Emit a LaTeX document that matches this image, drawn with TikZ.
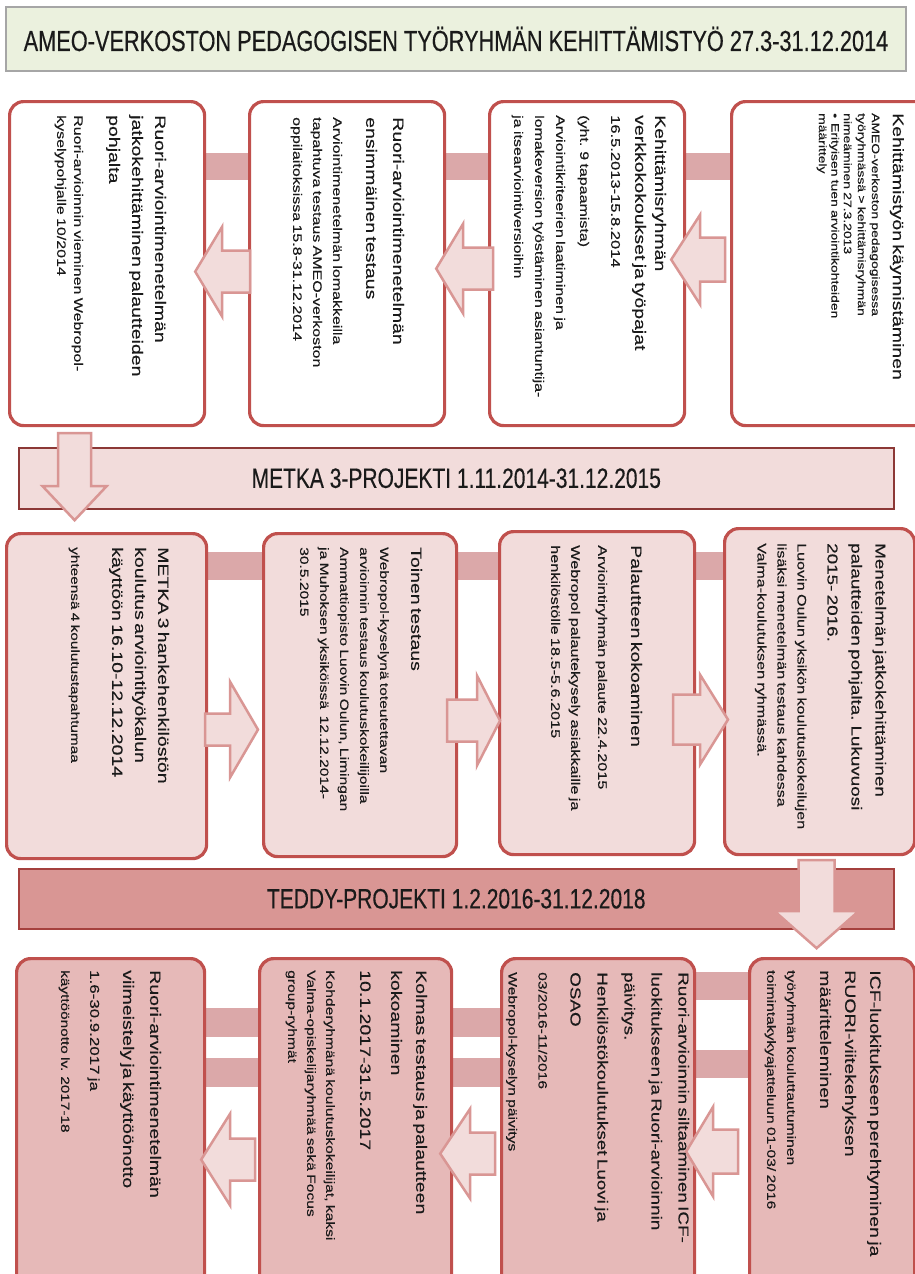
\documentclass[tikz,border=0pt]{standalone}
\usepackage{fontspec}
\setmainfont{Liberation Sans}
\newfontfamily\hfont[FakeStretch=0.75,FakeBold=0.3]{Liberation Sans}
\newfontfamily\vfont[FakeStretch=1.3,FakeBold=0.3]{Liberation Sans}
\usetikzlibrary{calc,backgrounds}

\definecolor{boxred}{HTML}{C0504D}
\definecolor{paleFill}{HTML}{F2DCDB}
\definecolor{roseFill}{HTML}{E6B9B8}
\definecolor{barRose}{HTML}{DBA8A9}
\definecolor{arrowLine}{HTML}{D99694}
\definecolor{titleFill}{HTML}{EBF1DE}
\definecolor{titleLine}{HTML}{A6A6A6}
\definecolor{metkaLine}{HTML}{8C3836}
\definecolor{teddyFill}{HTML}{D99694}
\definecolor{teddyLine}{HTML}{A5403D}
\definecolor{inkGray}{HTML}{1A1A1A}

% one paragraph of rotated box text: size, baseline skip, text
\newcommand\tpar[3]{{\fontsize{#1pt}{#2pt}\selectfont #3\par}}
\newcommand\tgap[1]{\vspace{#1pt}}

% block arrow: rotation, tip point, total length, head length, head half width, shaft half width
\newcommand\blockarrow[6]{%
  \draw[blockarrowstyle, shift={#2}, rotate=#1]
    (0,0) -- (#4,-#5) -- (#4,-#6) -- (#3,-#6) -- (#3,#6) -- (#4,#6) -- (#4,#5) -- cycle;}

\begin{document}
\begin{tikzpicture}[x=1pt,y=-1pt,
  stagebox/.style={draw=boxred, line width=3.2pt, rounded corners=14pt,
    anchor=north west, inner sep=0pt},
  vtext/.style={rotate=-90, anchor=north west, inner sep=0pt,
    text width=305pt, align=left, font=\vfont, text=inkGray},
  band/.style={draw, anchor=north west, inner sep=0pt, font=\hfont, text=inkGray},
  bar/.style={draw=barRose, line width=#1pt},
  blockarrowstyle/.style={fill=paleFill, draw=arrowLine, line width=2.5pt, line join=miter}
]
\useasboundingbox (0,0) rectangle (915,1274);

% ---------- title ----------
\node[band, fill=titleFill, draw=titleLine, line width=2pt,
      minimum width=900pt, minimum height=64pt] (title) at (5,6)
  {\fontsize{29pt}{31pt}\selectfont AMEO-VERKOSTON PEDAGOGISEN TYÖRYHMÄN KEHITTÄMISTYÖ 27.3-31.12.2014};

% ---------- first row ----------
\node[stagebox, fill=white, minimum width=195pt, minimum height=324pt] (A) at (8,100) {};
\node[stagebox, fill=white, minimum width=195pt, minimum height=324pt] (B) at (248,100) {};
\node[stagebox, fill=white, minimum width=195pt, minimum height=324pt] (C) at (488,100) {};
\node[stagebox, fill=white, minimum width=210pt, minimum height=324pt] (D) at (730,100) {};

\node[vtext] (tA) at ($(A.north east)+(-40,15)$) {%
  \tpar{15}{23}{Ruori-arviointimenetelmän\\jatkokehittäminen palautteiden\\pohjalta}\tgap{18}%
  \tpar{12.3}{17}{Ruori-arvioinnin vieminen Webropol-\\kyselypohjalle 10/2014}};
\node[vtext] (tB) at ($(B.north east)+(-42,17)$) {%
  \tpar{15}{27}{Ruori-arviointimenetelmän\\ensimmäinen testaus}\tgap{13}%
  \tpar{12.3}{20}{Arviointimenetelmän lomakkeilla\\tapahtuva testaus AMEO-verkoston\\oppilaitoksissa 15.8-31.12.2014}};
\node[vtext] (tC) at ($(C.north east)+(-20,15)$) {%
  \tpar{15}{20}{Kehittämisryhmän\\verkkokokoukset ja työpajat}\tgap{4}%
  \tpar{12.7}{20}{16.5.2013-15.8.2014}\tgap{11}%
  \tpar{12.3}{20}{(yht. 9 tapaamista)}\tgap{3}%
  \tpar{12.3}{21}{Arviointikriteerien laatiminen ja\\lomakeversion työstäminen asiantuntija-\\ja itsearviointiversioihin}};
\node[vtext] (tD) at ($(D.north west)+(174,13)$) {%
  \tpar{15}{20}{Kehittämistyön käynnistäminen}\tgap{7}%
  \tpar{10.7}{14}{AMEO-verkoston pedagogisessa\\työryhmässä > kehittämisryhmän\\nimeäminen 27.3.2013}%
  \tpar{10.7}{12.5}{\hangindent=14pt\hangafter=1 •\hspace{5pt}Erityisen tuen arviointikohteiden\\määrittely}};

% ---------- METKA band ----------
\node[band, fill=paleFill, draw=metkaLine, line width=1.5pt,
      minimum width=875pt, minimum height=61pt] (metka) at (18,447)
  {\fontsize{28pt}{30pt}\selectfont METKA 3-PROJEKTI 1.11.2014-31.12.2015};

% ---------- second row ----------
\node[stagebox, fill=paleFill, minimum width=200pt, minimum height=325pt] (E) at (5,532) {};
\node[stagebox, fill=paleFill, minimum width=193pt, minimum height=323pt] (F) at (262,532) {};
\node[stagebox, fill=paleFill, minimum width=195pt, minimum height=323pt] (G) at (498,530) {};
\node[stagebox, fill=paleFill, minimum width=190pt, minimum height=326pt] (H) at (723,527) {};

\node[vtext] (tE) at ($(E.north east)+(-39,15)$) {%
  \tpar{15}{23}{METKA 3 hankehenkilöstön\\koulutus arviointityökalun\\käyttöön 16.10-12.12.2014}\tgap{24}%
  \tpar{11.8}{17}{yhteensä 4 koulutustapahtumaa}};
\node[vtext] (tF) at ($(F.north east)+(-36,15)$) {%
  \tpar{15}{20}{Toinen testaus}\tgap{11}%
  \tpar{12}{20}{Webropol-kyselynä toteutettavan\\arvioinnin testaus koulutuskokeilijoilla\\Ammattiopisto Luovin Oulun, Limingan\\ja Muhoksen yksiköissä\ \ 12.12.2014-\\30.5.2015}};
\node[vtext] (tG) at ($(G.north east)+(-54,15)$) {%
  \tpar{15}{20}{Palautteen kokoaminen}\tgap{13}%
  \tpar{12.5}{20}{Arviointiryhmän palaute 22.4.2015}\tgap{7}%
  \tpar{12.5}{20}{Webropol palautekysely asiakkaille ja\\henkilöstölle 18.5-5.6.2015}};
\node[vtext] (tH) at ($(H.north east)+(-30,16)$) {%
  \tpar{14.5}{24}{Menetelmän jatkokehittäminen\\palautteiden pohjalta. Lukuvuosi\\2015- 2016.}\tgap{10}%
  \tpar{12.4}{20}{Luovin Oulun yksikön koulutuskokeilujen\\lisäksi menetelmän testaus kahdessa\\Valma-koulutuksen ryhmässä.}};

% ---------- TEDDY band ----------
\node[band, fill=teddyFill, draw=teddyLine, line width=1.5pt,
      minimum width=875pt, minimum height=60pt] (teddy) at (18,868)
  {\fontsize{28pt}{30pt}\selectfont TEDDY-PROJEKTI 1.2.2016-31.12.2018};

% ---------- third row ----------
\node[stagebox, fill=roseFill, minimum width=188pt, minimum height=330pt] (I) at (15,957) {};
\node[stagebox, fill=roseFill, minimum width=192pt, minimum height=330pt] (J) at (258,957) {};
\node[stagebox, fill=roseFill, minimum width=193pt, minimum height=330pt] (K) at (500,957) {};
\node[stagebox, fill=roseFill, minimum width=165pt, minimum height=330pt] (L) at (748,957) {};

\node[vtext] (tL) at ($(L.north east)+(-35,13)$) {%
  \tpar{15}{25}{ICF-luokitukseen perehtyminen ja\\RUORI-viitekehyksen\\määritteleminen}\tgap{13}%
  \tpar{12}{20}{työryhmän kouluttautuminen\\toimintakykyajatteluun 01-03/ 2016}};
\node[vtext] (tK) at ($(K.north east)+(-7,15)$) {%
  \tpar{14.5}{27}{Ruori-arvioinnin siltaaminen ICF-\\luokitukseen ja Ruori-arvioinnin\\päivitys.\\Henkilöstökoulutukset Luovi ja\\OSAO}\tgap{2}%
  \tpar{12}{30}{03/2016-11/2016\\Webropol-kyselyn päivitys}};
\node[vtext] (tJ) at ($(J.north east)+(-26,13)$) {%
  \tpar{15}{25}{Kolmas testaus ja palautteen\\kokoaminen}\tgap{6}%
  \tpar{15}{25}{10.1.2017-31.5.2017}\tgap{15}%
  \tpar{12}{19}{Kohderyhmänä koulutuskokeilijat, kaksi\\Valma-opiskelijaryhmää sekä Focus\\group-ryhmät}};
\node[vtext] (tI) at ($(I.north east)+(-45,13)$) {%
  \tpar{15}{27}{Ruori-arviointimenetelmän\\viimeistely ja käyttöönotto}\tgap{6}%
  \tpar{13}{27}{1.6-30.9.2017 ja}\tgap{9}%
  \tpar{11.8}{20}{käyttöönotto lv. 2017-18}};

% ---------- connecting bars behind the boxes ----------
\begin{pgfonlayer}{background}
  \fill[white] (0,0) rectangle (915,1274);
  \coordinate (r1) at ($(A.north east)+(0,66.5)$);
  \draw[bar=27] (r1) -- (r1 -| D.west);
  \coordinate (r2) at ($(E.north east)+(0,34)$);
  \draw[bar=28] (r2) -- (r2 -| H.west);
  \coordinate (r3a) at ($(I.north east)+(0,65)$);
  \draw[bar=29] (r3a) -- (r3a -| K.west);
  \coordinate (r3b) at ($(I.north east)+(0,115)$);
  \draw[bar=29] (r3b) -- (r3b -| K.west);
  \coordinate (r3c) at ($(K.north east)+(0,29)$);
  \draw[bar=28] (r3c) -- (r3c -| L.west);
  \coordinate (r3d) at ($(K.north east)+(0,107)$);
  \draw[bar=28] (r3d) -- (r3d -| L.west);
\end{pgfonlayer}

% ---------- block arrows ----------
\blockarrow{0}{($(A.east)+(-11,8)$)}{55}{27}{45}{21}
\blockarrow{0}{($(B.east)+(-10,5)$)}{57}{27}{45}{21}
\blockarrow{0}{($(C.east)+(-15,-4)$)}{54}{29}{45}{22}
\blockarrow{90}{($(A.south)+(-32.5,93)$)}{87}{34}{32}{16.5}
\blockarrow{180}{($(F.west)+(-4,34.5)$)}{53}{28}{48}{16}
\blockarrow{180}{($(G.west)+(2,27.5)$)}{53}{23}{45}{21}
\blockarrow{180}{($(H.west)+(5,28)$)}{55}{28}{45}{25}
\blockarrow{90}{($(H.south)+(-3,92)$)}{88}{37}{42}{18}
\blockarrow{0}{($(K.east)+(-10,28)$)}{52}{27}{45}{22}
\blockarrow{0}{($(J.east)+(-13,30)$)}{55}{30}{45}{21}
\blockarrow{0}{($(I.east)+(-5,36)$)}{54}{29}{46}{21}
\end{tikzpicture}
\end{document}
